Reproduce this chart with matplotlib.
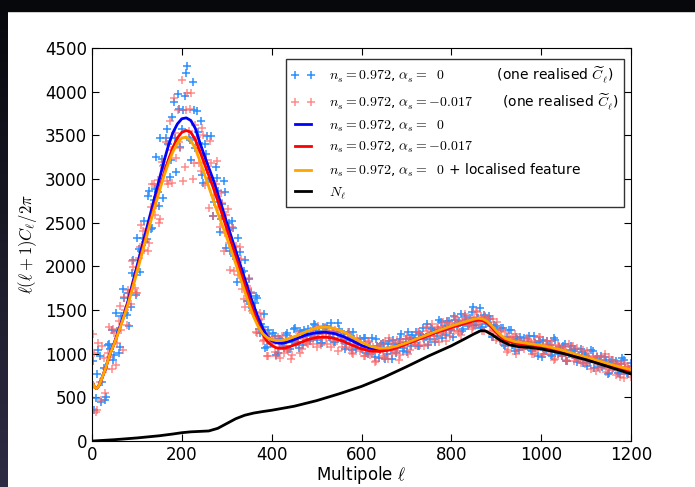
import numpy as np
import matplotlib
matplotlib.use('Agg')
import matplotlib.pyplot as plt
from matplotlib.colors import LinearSegmentedColormap

plt.rcParams['mathtext.fontset'] = 'cm'
plt.rcParams['font.family'] = 'DejaVu Sans'

# theory spectra, l(l+1)C_l/2pi
ell_th = [2, 5, 10, 15, 20, 30, 40, 50, 60, 70, 80, 90, 100, 110, 120, 130, 140, 150, 160, 170,
          180, 190, 200, 210, 220, 230, 240, 250, 260, 270, 280, 290, 300, 310, 320, 330, 340, 350,
          360, 370, 380, 390, 400, 410, 420, 430, 440, 460, 480, 500, 520, 540, 560, 580, 600, 620,
          640, 660, 680, 700, 720, 740, 760, 780, 800, 820, 840, 850, 860, 870, 880, 890, 900, 910,
          920, 940, 960, 980, 1000, 1020, 1040, 1060, 1080, 1100, 1120, 1140, 1160, 1180, 1200]
cl_a0 = [660, 620, 600, 630, 690, 830, 1000, 1130, 1280, 1430, 1600, 1800, 2000, 2200, 2400, 2600,
         2800, 3000, 3200, 3380, 3530, 3630, 3690, 3700, 3670, 3580, 3420, 3270, 3130, 2990, 2830,
         2670, 2500, 2340, 2180, 2020, 1860, 1700, 1550, 1410, 1290, 1200, 1150, 1125, 1118, 1125,
         1140, 1180, 1220, 1240, 1245, 1230, 1195, 1145, 1095, 1060, 1050, 1060, 1090, 1125, 1165,
         1205, 1245, 1280, 1315, 1345, 1375, 1390, 1400, 1393, 1365, 1315, 1255, 1205, 1170, 1135,
         1120, 1105, 1090, 1070, 1045, 1015, 985, 955, 925, 895, 865, 838, 812]
cl_run = [660, 620, 600, 630, 690, 830, 995, 1120, 1265, 1415, 1580, 1770, 1960, 2150, 2340, 2530,
          2710, 2890, 3060, 3220, 3360, 3470, 3535, 3555, 3535, 3450, 3320, 3180, 3040, 2900, 2750,
          2590, 2430, 2270, 2110, 1950, 1790, 1630, 1480, 1340, 1220, 1140, 1095, 1068, 1060, 1065,
          1080, 1118, 1160, 1185, 1190, 1175, 1140, 1095, 1055, 1030, 1025, 1040, 1070, 1110, 1150,
          1190, 1230, 1265, 1300, 1330, 1360, 1375, 1385, 1378, 1350, 1300, 1242, 1192, 1155, 1122,
          1107, 1093, 1078, 1058, 1033, 1003, 973, 943, 913, 883, 853, 826, 800]
cl_feat = [660, 620, 600, 630, 690, 830, 995, 1120, 1260, 1405, 1560, 1740, 1930, 2120, 2310, 2500,
           2680, 2860, 3030, 3180, 3310, 3410, 3470, 3480, 3440, 3350, 3210, 3060, 2910, 2760, 2610,
           2470, 2330, 2180, 2030, 1870, 1710, 1560, 1420, 1310, 1230, 1185, 1160, 1150, 1150, 1160,
           1175, 1215, 1260, 1295, 1305, 1290, 1250, 1190, 1130, 1085, 1060, 1065, 1090, 1125, 1165,
           1205, 1245, 1282, 1318, 1350, 1380, 1395, 1405, 1398, 1370, 1320, 1262, 1212, 1175, 1140,
           1125, 1110, 1095, 1075, 1050, 1020, 990, 960, 930, 900, 870, 843, 817]

# noise N_l
ell_noise = [2, 50, 100, 150, 180, 200, 220, 240, 260, 280, 300, 320, 340, 360, 380, 400, 450, 500,
             550, 600, 650, 700, 750, 800, 830, 850, 865, 875, 890, 910, 930, 950, 975, 1000, 1050,
             1100, 1150, 1200]
noise = [0, 15, 35, 60, 80, 95, 105, 110, 115, 145, 200, 255, 295, 320, 337, 352, 398, 462, 540,
         625, 730, 850, 975, 1090, 1170, 1225, 1262, 1262, 1220, 1150, 1100, 1080, 1070, 1055, 1000,
         930, 850, 768]

# one realisation of C_l for each model (l = 2, 8, 14, ... and l = 5, 11, 17, ...)
ell_real = np.arange(2, 1200, 6)
ell_real_b = np.arange(5, 1200, 6)
real_a0 = [912, 493, 1040, 450, 835, 505, 1110, 1270, 990, 1256, 1076, 1742, 1464, 1690, 1540, 2074,
           1672, 2200, 2180, 2520, 2308, 2868, 2438, 2888, 2854, 3465, 2785, 3470, 3405, 3218, 3886,
           3078, 3800, 3578, 3950, 4290, 3450, 4115, 3356, 3541, 3665, 2950, 3290, 3005, 3495, 2735,
           3010, 2391, 2714, 2856, 2416, 2172, 2437, 2084, 2325, 1958, 1950, 1600, 1850, 1519, 1585,
           1643, 1240, 1302, 1070, 1270, 1124, 1236, 990, 1165, 1142, 1063, 1235, 1057, 1150, 1292,
           1138, 1255, 1100, 1225, 1283, 1200, 1340, 1156, 1263, 1118, 1294, 1320, 1191, 1247, 1137,
           1348, 1191, 1230, 1110, 1251, 1038, 1172, 1108, 1170, 1048, 1178, 993, 1088, 1036, 1172,
           945, 1108, 1062, 995, 1146, 937, 1115, 1062, 1170, 1026, 1171, 1245, 1089, 1171, 1246,
           1083, 1214, 1170, 1343, 1166, 1283, 1137, 1276, 1364, 1264, 1218, 1369, 1273, 1429, 1319,
           1370, 1260, 1430, 1320, 1412, 1540, 1323, 1407, 1292, 1445, 1343, 1429, 1189, 1324, 1271,
           1164, 1290, 1093, 1160, 1268, 1103, 1195, 1037, 1137, 1177, 1088, 1207, 1027, 1120, 979,
           1137, 1158, 1034, 1087, 982, 1184, 1039, 1078, 971, 1112, 914, 1045, 990, 1053, 943, 1054,
           895, 979, 928, 1039, 838, 967, 916, 847, 964, 769, 904, 841, 917, 777, 883, 930, 778, 830]
real_a0_b = [350, 770, 975, 670, 475, 1095, 1050, 930, 1463, 1013, 1427, 1643, 1442, 1318, 1924, 1900,
             2320, 1940, 2320, 2280, 2808, 2422, 2762, 3256, 2694, 3225, 3165, 3575, 3025, 3711, 3468,
             3971, 3367, 3785, 4210, 3475, 3215, 3790, 3782, 3412, 3045, 3405, 3495, 3015, 2580, 3135,
             2859, 2544, 2972, 2212, 2492, 2523, 2122, 1826, 2163, 1940, 2070, 1600, 1700, 1500, 1662,
             1287, 1337, 1458, 1080, 1220, 1129, 1205, 1002, 1171, 1090, 1217, 1053, 1168, 1286, 1118,
             1070, 1238, 1272, 1210, 1140, 1274, 1329, 1220, 1124, 1308, 1258, 1186, 1349, 1133, 1250,
             1287, 1158, 1055, 1226, 1155, 1245, 1052, 1129, 1061, 1183, 1012, 1072, 1184, 964, 1086,
             1037, 1123, 944, 1109, 1038, 1159, 1008, 1116, 1224, 1067, 1022, 1181, 1214, 1156, 1091,
             1229, 1290, 1190, 1104, 1298, 1264, 1203, 1380, 1181, 1318, 1377, 1268, 1187, 1385, 1338,
             1452, 1286, 1386, 1339, 1480, 1327, 1404, 1525, 1303, 1415, 1346, 1400, 1186, 1315, 1207,
             1289, 1103, 1186, 1274, 1094, 1030, 1172, 1188, 1113, 1083, 1132, 1042, 1201, 1098, 1146,
             965, 1044, 1149, 1097, 973, 1160, 997, 1053, 1091, 911, 992, 1087, 1032, 906, 969, 1020,
             994, 860, 899, 1034, 941, 848, 977, 872, 929, 782, 929, 849, 883, 767, 945, 836, 768, 898]
real_run = [1230, 330, 1120, 470, 955, 825, 1310, 825, 1240, 1120, 1547, 1043, 1498, 1724, 1569,
            1990, 1691, 2100, 2470, 2185, 2424, 2270, 2940, 2588, 2984, 2540, 3145, 3425, 2940, 3330,
            3932, 3241, 3426, 4130, 3132, 3980, 3805, 2995, 3618, 3342, 3090, 3505, 3220, 2665, 3180,
            2820, 3205, 2448, 2722, 2380, 2652, 1958, 2223, 2238, 1903, 2080, 1630, 1775, 1870, 1488,
            1476, 1235, 1470, 1148, 1247, 970, 1136, 1168, 975, 1060, 1202, 1003, 1048, 1178, 987,
            1143, 1186, 1003, 1187, 1146, 1106, 1254, 1206, 1080, 1251, 1176, 1309, 1111, 1227, 1145,
            1270, 1027, 1157, 1196, 1076, 1180, 1007, 1106, 1182, 1032, 1064, 972, 1140, 988, 1077,
            914, 1053, 1105, 949, 1038, 1177, 996, 1041, 1161, 984, 1129, 1169, 999, 1172, 1135, 1098,
            1250, 1206, 1085, 1265, 1200, 1345, 1161, 1290, 1223, 1366, 1146, 1297, 1356, 1260, 1388,
            1236, 1357, 1457, 1326, 1376, 1300, 1483, 1343, 1431, 1262, 1384, 1407, 1216, 1267, 1368,
            1149, 1156, 1246, 1047, 1169, 1187, 999, 1156, 1102, 1052, 1178, 1121, 993, 1145, 1069,
            1188, 1000, 1105, 1027, 1144, 922, 1045, 1083, 976, 1078, 919, 1014, 1089, 950, 979, 898,
            1039, 905, 974, 827, 938, 971, 824, 887, 992, 821, 842, 930, 760, 866, 882, 719, 849, 800]
real_run_b = [1012, 350, 675, 1090, 555, 1012, 965, 1280, 874, 1376, 1268, 1646, 1332, 1694, 2066,
              1749, 1690, 2225, 2400, 2315, 2171, 2682, 2941, 2699, 2496, 3200, 3125, 2975, 3665, 2953,
              3532, 3788, 3352, 2975, 3795, 3545, 3980, 3180, 3484, 3180, 3585, 2930, 3100, 3440, 2580,
              2940, 2676, 2845, 2173, 2584, 2263, 2456, 1942, 2093, 2222, 1743, 1535, 1750, 1705, 1467,
              1244, 1387, 1401, 1152, 970, 1191, 1106, 1015, 1186, 956, 1090, 1148, 1027, 940, 1155,
              1108, 1232, 1058, 1168, 1120, 1264, 1111, 1188, 1312, 1098, 1225, 1176, 1259, 1074, 1231,
              1147, 1250, 1078, 1166, 1251, 1069, 998, 1132, 1140, 1057, 968, 1086, 1128, 1010, 910,
              1089, 1039, 971, 1143, 938, 1070, 1126, 1016, 933, 1132, 1088, 1205, 1042, 1145, 1101,
              1246, 1097, 1179, 1310, 1105, 1243, 1206, 1302, 1131, 1302, 1235, 1357, 1207, 1316, 1423,
              1264, 1217, 1373, 1403, 1342, 1282, 1416, 1472, 1363, 1261, 1429, 1359, 1259, 1395, 1153,
              1248, 1267, 1123, 1017, 1196, 1129, 1225, 1046, 1133, 1072, 1095, 1157, 1132, 991, 1038,
              1191, 1095, 997, 1141, 1031, 1096, 938, 1100, 1013, 1050, 923, 1116, 996, 921, 1062, 932,
              971, 885, 1027, 928, 967, 796, 865, 958, 907, 790, 961, 808, 860, 894, 730, 806, 895, 846,
              730]

lab_a0 = r'$n_s=$$0.972$, $\alpha_s=$$\ \ 0$'
lab_run = r'$n_s=$$0.972$, $\alpha_s=$$-0.017$'
lab_cl = r'(one realised $\widetilde{C}_\ell$)'

fig = plt.figure(figsize=(6.95, 4.87), dpi=100)
ax = fig.add_axes([92 / 695, 46 / 487, 539 / 695, 393 / 487])

ax.plot(np.concatenate([ell_real, ell_real_b]), real_a0 + real_a0_b, '+', color='#2a90ff',
        ms=5.5, mew=1.1, label=lab_a0 + '            ' + lab_cl)
ax.plot(np.concatenate([ell_real, ell_real_b]), real_run + real_run_b, '+', color='#ff5c5c',
        ms=5.5, mew=1.1, alpha=0.7, label=lab_run + '       ' + lab_cl)
ax.plot(ell_th, cl_a0, color='#0000ff', lw=2, label=lab_a0)
ax.plot(ell_th, cl_run, color='#ff0000', lw=2, label=lab_run)
ax.plot(ell_th, cl_feat, color='#ffa500', lw=2, label=lab_a0 + ' + localised feature')
ax.plot(ell_noise, noise, color='black', lw=2, label=r'$N_\ell$')

ax.set_xlim(0, 1200)
ax.set_ylim(0, 4500)
ax.set_xticks(np.arange(0, 1201, 200))
ax.set_yticks(np.arange(0, 4501, 500))
ax.tick_params(direction='in', top=True, right=True, length=5, labelsize=12)
ax.set_xlabel(r'Multipole $\ell$', fontsize=12, labelpad=0)
ax.set_ylabel(r'$\ell(\ell+1)C_\ell/2\pi$', fontsize=12)

leg = ax.legend(loc='upper right', numpoints=2, fontsize=10, fancybox=False,
                handlelength=1.7, handletextpad=1.0, labelspacing=0.45,
                borderaxespad=0.5, bbox_to_anchor=(1.0, 0.99))
leg.get_frame().set_edgecolor('black')
leg.get_frame().set_linewidth(1.0)

# dark frame of the screenshot
fig.patches.append(plt.Rectangle((0, 1 - 11 / 487), 1, 11 / 487, transform=fig.transFigure,
                                 color='#07080c', zorder=10))
cmap = LinearSegmentedColormap.from_list('edge', ['#07080c', '#2e2c44'])
edge = fig.add_axes([0, 0, 8 / 695, 1])
edge.imshow(np.linspace(0, 1, 100).reshape(-1, 1), aspect='auto', cmap=cmap)
edge.axis('off')

fig.savefig('out.png', dpi=100)
